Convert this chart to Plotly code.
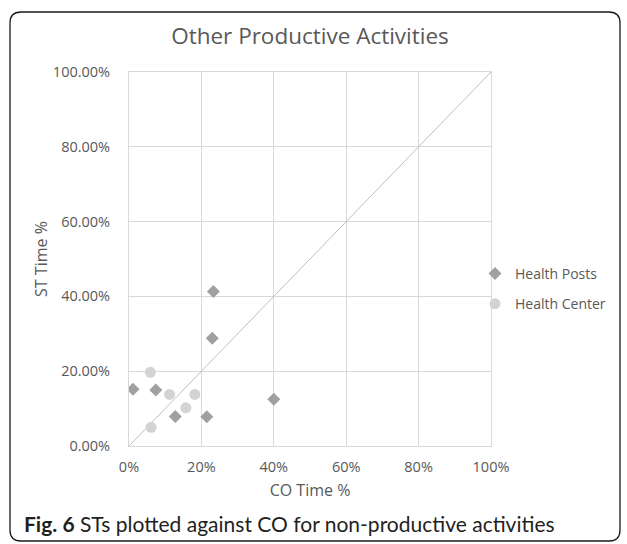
import plotly.graph_objects as go

# ── dados (frações 0..1) ─────────────────────────────────────────────
posts_co = [0.011, 0.074, 0.128, 0.215, 0.23, 0.233, 0.40]
posts_st = [0.152, 0.150, 0.079, 0.078, 0.288, 0.413, 0.125]

center_co = [0.059, 0.061, 0.112, 0.157, 0.182]
center_st = [0.197, 0.050, 0.138, 0.102, 0.138]

diag = [0, 1]

W, H = 627, 544
L, R, T, B = 129, 491, 72, 446   # área do gráfico em pixels

TEXTO = "#595959"
GRADE = "#d9d9d9"
FONTE = "'Open Sans', sans-serif"


def px(x):
    return (x - L) / (R - L)


def py(y):
    return (B - y) / (B - T)


fig = go.Figure()

fig.add_trace(go.Scatter(
    x=diag, y=diag, mode="lines", showlegend=False, hoverinfo="skip",
    line=dict(color="#bfbfbf", width=1),
))

fig.add_trace(go.Scatter(
    x=posts_co, y=posts_st, mode="markers", name="Health Posts",
    legendgroup="a",
    marker=dict(symbol="diamond", size=10, color="#a0a0a0"),
))

fig.add_trace(go.Scatter(
    x=center_co, y=center_st, mode="markers", name="Health Center",
    legendgroup="b",
    marker=dict(symbol="circle", size=11, color="#d3d3d3"),
))

# moldura arredondada
x0, x1, y0, y1, r = px(10), px(620), py(12), py(541), 11
rx, ry = r / (R - L), r / (B - T)
caminho = (
    f"M {x0 + rx},{y0} L {x1 - rx},{y0} Q {x1},{y0} {x1},{y0 - ry} "
    f"L {x1},{y1 + ry} Q {x1},{y1} {x1 - rx},{y1} "
    f"L {x0 + rx},{y1} Q {x0},{y1} {x0},{y1 + ry} "
    f"L {x0},{y0 - ry} Q {x0},{y0} {x0 + rx},{y0} Z"
)
fig.add_shape(type="path", path=caminho, xref="paper", yref="paper",
              line=dict(color="#1a1a1a", width=1.3), layer="above")

fig.add_annotation(
    text="<b>Fig. 6</b> STs plotted against CO for non-productive activities",
    xref="paper", yref="paper", x=px(22), y=py(523),
    xanchor="left", yanchor="middle", showarrow=False,
    font=dict(family="Lato, sans-serif", size=21, color="#231f20"),
)

fig.update_layout(
    width=W, height=H,
    paper_bgcolor="white", plot_bgcolor="white",
    margin=dict(l=L, r=W - R, t=T, b=H - B),
    font=dict(family=FONTE, color=TEXTO, size=14.5),
    title=dict(text="Other Productive Activities", x=px(310), xref="paper",
               xanchor="center", y=1 - 36 / H, yanchor="middle",
               font=dict(size=22.5, color=TEXTO)),
    legend=dict(x=px(475), y=py(258), xanchor="left", yanchor="top",
                bgcolor="rgba(0,0,0,0)", tracegroupgap=9,
                font=dict(size=14, color=TEXTO)),
    showlegend=True,
)

fig.update_xaxes(
    range=[0, 1], dtick=0.2, tickformat=".0%",
    showgrid=True, gridcolor=GRADE, gridwidth=1,
    showline=True, mirror=True, linecolor=GRADE, zeroline=False,
    ticks="", ticklabelstandoff=8, tickfont=dict(size=14.5),
    title=dict(text="CO Time %", standoff=9, font=dict(size=16)),
)
fig.update_yaxes(
    range=[0, 1], dtick=0.2, tickformat=".2%",
    showgrid=True, gridcolor=GRADE, gridwidth=1,
    showline=True, mirror=True, linecolor=GRADE, zeroline=False,
    ticks="", ticklabelstandoff=15, tickfont=dict(size=14.5),
    title=dict(text="ST Time %", standoff=1, font=dict(size=16)),
)

# sem margem do <body>, para a figura ocupar a janela a partir de (0,0)
fig.write_html("out.html",
               config={"displayModeBar": False},
               post_script="document.body.style.margin='0';"
                           "document.body.style.overflow='hidden';")
